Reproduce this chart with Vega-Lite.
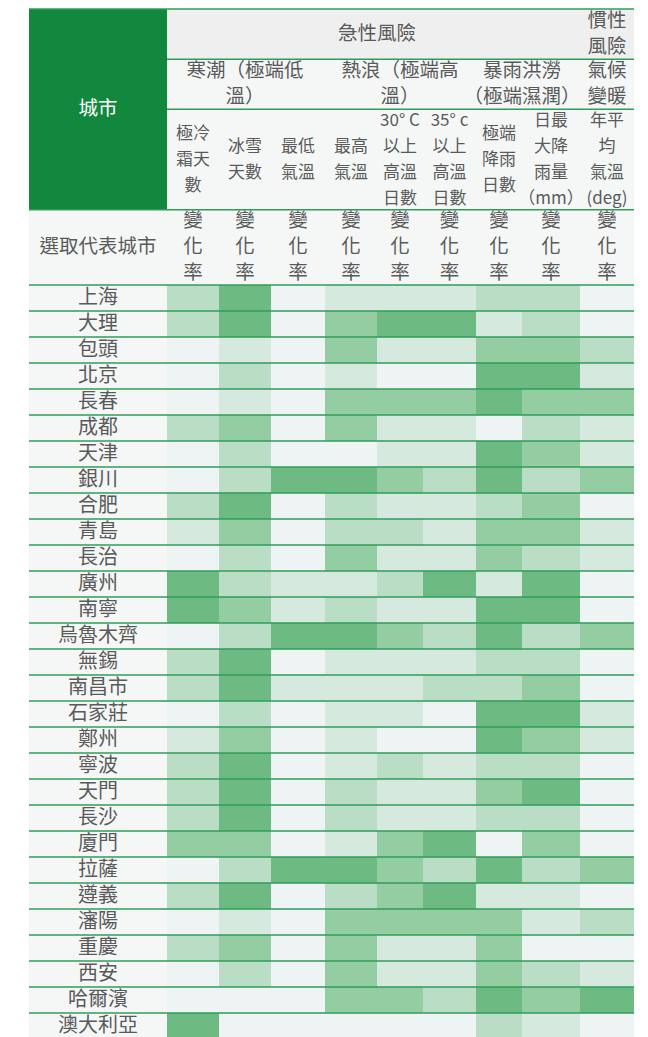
{
  "$schema": "https://vega.github.io/schema/vega-lite/v6.json",
  "width": 605,
  "height": 1030,
  "autosize": {"type": "none"},
  "padding": {"left": 29, "top": 9, "right": 14, "bottom": 0},
  "config": {"view": {"stroke": null}, "font": "Noto Sans CJK TC"},
  "datasets": {
    "hdr": [
      {"標題": "城市", "欄起": 0, "欄止": 1, "行起": 0, "行止": 8},
      {"標題": "急性風險", "欄起": 1, "欄止": 9, "行起": 0, "行止": 2},
      {"標題": "慣性\n風險", "欄起": 9, "欄止": 10, "行起": 0, "行止": 2},
      {"標題": "寒潮（極端低\n溫）", "欄起": 1, "欄止": 4, "行起": 2, "行止": 4},
      {"標題": "熱浪（極端高\n溫）", "欄起": 4, "欄止": 7, "行起": 2, "行止": 4},
      {"標題": "暴雨洪澇\n（極端濕潤）", "欄起": 7, "欄止": 9, "行起": 2, "行止": 4},
      {"標題": "氣候\n變暖", "欄起": 9, "欄止": 10, "行起": 2, "行止": 4},
      {"標題": "極冷\n霜天\n數", "指標": "極冷霜天數", "欄起": 1, "欄止": 2, "行起": 4, "行止": 8},
      {"標題": "冰雪\n天數", "指標": "冰雪天數", "欄起": 2, "欄止": 3, "行起": 4, "行止": 8},
      {"標題": "最低\n氣溫", "指標": "最低氣溫", "欄起": 3, "欄止": 4, "行起": 4, "行止": 8},
      {"標題": "最高\n氣溫", "指標": "最高氣溫", "欄起": 4, "欄止": 5, "行起": 4, "行止": 8},
      {"標題": "30° C\n以上\n高溫\n日數", "指標": "30°C以上高溫日數", "欄起": 5, "欄止": 6, "行起": 4, "行止": 8},
      {"標題": "35° c\n以上\n高溫\n日數", "指標": "35°C以上高溫日數", "欄起": 6, "欄止": 7, "行起": 4, "行止": 8},
      {"標題": "極端\n降雨\n日數", "指標": "極端降雨日數", "欄起": 7, "欄止": 8, "行起": 4, "行止": 8},
      {"標題": "日最\n大降\n雨量\n（mm）", "指標": "日最大降雨量", "欄起": 8, "欄止": 9, "行起": 4, "行止": 8},
      {"標題": "年平\n均\n氣溫\n(deg)", "指標": "年平均氣溫", "欄起": 9, "欄止": 10, "行起": 4, "行止": 8},
      {"標題": "選取代表城市", "欄起": 0, "欄止": 1, "行起": 8, "行止": 11},
      {"標題": "變\n化\n率", "欄起": 1, "欄止": 2, "行起": 8, "行止": 11},
      {"標題": "變\n化\n率", "欄起": 2, "欄止": 3, "行起": 8, "行止": 11},
      {"標題": "變\n化\n率", "欄起": 3, "欄止": 4, "行起": 8, "行止": 11},
      {"標題": "變\n化\n率", "欄起": 4, "欄止": 5, "行起": 8, "行止": 11},
      {"標題": "變\n化\n率", "欄起": 5, "欄止": 6, "行起": 8, "行止": 11},
      {"標題": "變\n化\n率", "欄起": 6, "欄止": 7, "行起": 8, "行止": 11},
      {"標題": "變\n化\n率", "欄起": 7, "欄止": 8, "行起": 8, "行止": 11},
      {"標題": "變\n化\n率", "欄起": 8, "欄止": 9, "行起": 8, "行止": 11},
      {"標題": "變\n化\n率", "欄起": 9, "欄止": 10, "行起": 8, "行止": 11}
    ],
    "cities": [
      {"城市": "上海", "極冷霜天數": 2, "冰雪天數": 4, "最低氣溫": 0, "最高氣溫": 1, "30°C以上高溫日數": 1, "35°C以上高溫日數": 1, "極端降雨日數": 2, "日最大降雨量": 2, "年平均氣溫": 0},
      {"城市": "大理", "極冷霜天數": 2, "冰雪天數": 4, "最低氣溫": 0, "最高氣溫": 3, "30°C以上高溫日數": 4, "35°C以上高溫日數": 4, "極端降雨日數": 1, "日最大降雨量": 2, "年平均氣溫": 0},
      {"城市": "包頭", "極冷霜天數": 0, "冰雪天數": 1, "最低氣溫": 0, "最高氣溫": 3, "30°C以上高溫日數": 1, "35°C以上高溫日數": 1, "極端降雨日數": 3, "日最大降雨量": 3, "年平均氣溫": 2},
      {"城市": "北京", "極冷霜天數": 0, "冰雪天數": 2, "最低氣溫": 0, "最高氣溫": 1, "30°C以上高溫日數": 0, "35°C以上高溫日數": 0, "極端降雨日數": 4, "日最大降雨量": 4, "年平均氣溫": 1},
      {"城市": "長春", "極冷霜天數": 0, "冰雪天數": 1, "最低氣溫": 0, "最高氣溫": 3, "30°C以上高溫日數": 3, "35°C以上高溫日數": 3, "極端降雨日數": 4, "日最大降雨量": 3, "年平均氣溫": 3},
      {"城市": "成都", "極冷霜天數": 2, "冰雪天數": 3, "最低氣溫": 0, "最高氣溫": 3, "30°C以上高溫日數": 1, "35°C以上高溫日數": 1, "極端降雨日數": 0, "日最大降雨量": 2, "年平均氣溫": 1},
      {"城市": "天津", "極冷霜天數": 0, "冰雪天數": 2, "最低氣溫": 0, "最高氣溫": 0, "30°C以上高溫日數": 1, "35°C以上高溫日數": 1, "極端降雨日數": 4, "日最大降雨量": 3, "年平均氣溫": 1},
      {"城市": "銀川", "極冷霜天數": 0, "冰雪天數": 2, "最低氣溫": 4, "最高氣溫": 4, "30°C以上高溫日數": 3, "35°C以上高溫日數": 2, "極端降雨日數": 4, "日最大降雨量": 2, "年平均氣溫": 3},
      {"城市": "合肥", "極冷霜天數": 2, "冰雪天數": 4, "最低氣溫": 0, "最高氣溫": 2, "30°C以上高溫日數": 1, "35°C以上高溫日數": 1, "極端降雨日數": 2, "日最大降雨量": 3, "年平均氣溫": 0},
      {"城市": "青島", "極冷霜天數": 1, "冰雪天數": 3, "最低氣溫": 0, "最高氣溫": 2, "30°C以上高溫日數": 2, "35°C以上高溫日數": 1, "極端降雨日數": 3, "日最大降雨量": 3, "年平均氣溫": 1},
      {"城市": "長治", "極冷霜天數": 0, "冰雪天數": 2, "最低氣溫": 0, "最高氣溫": 3, "30°C以上高溫日數": 1, "35°C以上高溫日數": 1, "極端降雨日數": 3, "日最大降雨量": 2, "年平均氣溫": 1},
      {"城市": "廣州", "極冷霜天數": 4, "冰雪天數": 2, "最低氣溫": 1, "最高氣溫": 1, "30°C以上高溫日數": 2, "35°C以上高溫日數": 4, "極端降雨日數": 1, "日最大降雨量": 4, "年平均氣溫": 0},
      {"城市": "南寧", "極冷霜天數": 4, "冰雪天數": 3, "最低氣溫": 1, "最高氣溫": 2, "30°C以上高溫日數": 1, "35°C以上高溫日數": 1, "極端降雨日數": 4, "日最大降雨量": 4, "年平均氣溫": 0},
      {"城市": "烏魯木齊", "極冷霜天數": 0, "冰雪天數": 2, "最低氣溫": 4, "最高氣溫": 4, "30°C以上高溫日數": 3, "35°C以上高溫日數": 2, "極端降雨日數": 4, "日最大降雨量": 2, "年平均氣溫": 3},
      {"城市": "無錫", "極冷霜天數": 2, "冰雪天數": 4, "最低氣溫": 0, "最高氣溫": 1, "30°C以上高溫日數": 1, "35°C以上高溫日數": 1, "極端降雨日數": 2, "日最大降雨量": 2, "年平均氣溫": 0},
      {"城市": "南昌市", "極冷霜天數": 2, "冰雪天數": 4, "最低氣溫": 1, "最高氣溫": 1, "30°C以上高溫日數": 1, "35°C以上高溫日數": 2, "極端降雨日數": 2, "日最大降雨量": 3, "年平均氣溫": 0},
      {"城市": "石家莊", "極冷霜天數": 0, "冰雪天數": 2, "最低氣溫": 0, "最高氣溫": 1, "30°C以上高溫日數": 1, "35°C以上高溫日數": 0, "極端降雨日數": 4, "日最大降雨量": 4, "年平均氣溫": 1},
      {"城市": "鄭州", "極冷霜天數": 1, "冰雪天數": 3, "最低氣溫": 0, "最高氣溫": 1, "30°C以上高溫日數": 0, "35°C以上高溫日數": 0, "極端降雨日數": 4, "日最大降雨量": 3, "年平均氣溫": 1},
      {"城市": "寧波", "極冷霜天數": 2, "冰雪天數": 4, "最低氣溫": 0, "最高氣溫": 1, "30°C以上高溫日數": 2, "35°C以上高溫日數": 1, "極端降雨日數": 2, "日最大降雨量": 2, "年平均氣溫": 0},
      {"城市": "天門", "極冷霜天數": 2, "冰雪天數": 4, "最低氣溫": 0, "最高氣溫": 2, "30°C以上高溫日數": 1, "35°C以上高溫日數": 1, "極端降雨日數": 3, "日最大降雨量": 4, "年平均氣溫": 0},
      {"城市": "長沙", "極冷霜天數": 2, "冰雪天數": 4, "最低氣溫": 0, "最高氣溫": 2, "30°C以上高溫日數": 1, "35°C以上高溫日數": 1, "極端降雨日數": 2, "日最大降雨量": 2, "年平均氣溫": 0},
      {"城市": "廈門", "極冷霜天數": 3, "冰雪天數": 3, "最低氣溫": 0, "最高氣溫": 1, "30°C以上高溫日數": 3, "35°C以上高溫日數": 4, "極端降雨日數": 0, "日最大降雨量": 3, "年平均氣溫": 0},
      {"城市": "拉薩", "極冷霜天數": 0, "冰雪天數": 2, "最低氣溫": 4, "最高氣溫": 4, "30°C以上高溫日數": 3, "35°C以上高溫日數": 2, "極端降雨日數": 4, "日最大降雨量": 2, "年平均氣溫": 3},
      {"城市": "遵義", "極冷霜天數": 2, "冰雪天數": 4, "最低氣溫": 0, "最高氣溫": 2, "30°C以上高溫日數": 3, "35°C以上高溫日數": 4, "極端降雨日數": 1, "日最大降雨量": 1, "年平均氣溫": 0},
      {"城市": "瀋陽", "極冷霜天數": 0, "冰雪天數": 1, "最低氣溫": 0, "最高氣溫": 3, "30°C以上高溫日數": 3, "35°C以上高溫日數": 3, "極端降雨日數": 3, "日最大降雨量": 1, "年平均氣溫": 2},
      {"城市": "重慶", "極冷霜天數": 2, "冰雪天數": 3, "最低氣溫": 0, "最高氣溫": 3, "30°C以上高溫日數": 1, "35°C以上高溫日數": 1, "極端降雨日數": 3, "日最大降雨量": 0, "年平均氣溫": 0},
      {"城市": "西安", "極冷霜天數": 0, "冰雪天數": 2, "最低氣溫": 0, "最高氣溫": 3, "30°C以上高溫日數": 1, "35°C以上高溫日數": 1, "極端降雨日數": 3, "日最大降雨量": 2, "年平均氣溫": 1},
      {"城市": "哈爾濱", "極冷霜天數": 0, "冰雪天數": 0, "最低氣溫": 0, "最高氣溫": 3, "30°C以上高溫日數": 3, "35°C以上高溫日數": 2, "極端降雨日數": 4, "日最大降雨量": 3, "年平均氣溫": 4},
      {"城市": "澳大利亞", "極冷霜天數": 4, "冰雪天數": 0, "最低氣溫": 0, "最高氣溫": 0, "30°C以上高溫日數": 0, "35°C以上高溫日數": 0, "極端降雨日數": 2, "日最大降雨量": 1, "年平均氣溫": 0}
    ]
  },
  "layer": [
    {
      "data": {"name": "hdr"},
      "mark": {"type": "rect"},
      "encoding": {
        "x": {"field": "欄起", "type": "quantitative", "axis": null, "scale": {"domain": [0,1,2,3,4,5,6,7,8,9,10], "range": [0,138,190,242,296,348,394,447,493,551,605], "nice": false, "zero": false}},
        "x2": {"field": "欄止"},
        "y": {"field": "行起", "type": "quantitative", "axis": null, "scale": {"domain": [0, 11, 40], "range": [0, 276, 1030], "nice": false, "zero": false}},
        "y2": {"field": "行止"},
        "fill": {"condition": [{"test": "datum['行起'] == 0 && datum['欄起'] == 0", "value": "#11883d"}, {"test": "datum['行起'] == 0", "value": "#efefef"}], "value": "#f5f7f7"}
      }
    },
    {
      "data": {"name": "cities"},
      "transform": [
        {"window": [{"op": "row_number", "as": "序"}]},
        {"calculate": "datum['序'] + 10", "as": "行起"},
        {"calculate": "datum['序'] + 11", "as": "行止"}
      ],
      "mark": {"type": "rect", "fill": "#f5f7f7"},
      "encoding": {
        "x": {"datum": 0, "type": "quantitative", "axis": null, "scale": {"domain": [0,1,2,3,4,5,6,7,8,9,10], "range": [0,138,190,242,296,348,394,447,493,551,605], "nice": false, "zero": false}},
        "x2": {"datum": 1},
        "y": {"field": "行起", "type": "quantitative", "axis": null, "scale": {"domain": [0, 11, 40], "range": [0, 276, 1030], "nice": false, "zero": false}},
        "y2": {"field": "行止"}
      }
    },
    {
      "data": {"name": "cities"},
      "transform": [
        {"window": [{"op": "row_number", "as": "序"}]},
        {"fold": ["極冷霜天數", "冰雪天數", "最低氣溫", "最高氣溫", "30°C以上高溫日數", "35°C以上高溫日數", "極端降雨日數", "日最大降雨量", "年平均氣溫"], "as": ["指標", "等級"]},
        {"lookup": "指標", "from": {"data": {"name": "hdr"}, "key": "指標", "fields": ["欄起", "欄止"]}},
        {"calculate": "datum['序'] + 10", "as": "行起"},
        {"calculate": "datum['序'] + 11", "as": "行止"}
      ],
      "mark": {"type": "rect"},
      "encoding": {
        "x": {"field": "欄起", "type": "quantitative", "axis": null, "scale": {"domain": [0,1,2,3,4,5,6,7,8,9,10], "range": [0,138,190,242,296,348,394,447,493,551,605], "nice": false, "zero": false}},
        "x2": {"field": "欄止"},
        "y": {"field": "行起", "type": "quantitative", "axis": null, "scale": {"domain": [0, 11, 40], "range": [0, 276, 1030], "nice": false, "zero": false}},
        "y2": {"field": "行止"},
        "color": {"field": "等級", "type": "ordinal", "legend": null, "scale": {"domain": [0, 1, 2, 3, 4], "range": ["#eef3f3", "#d6e9de", "#b9ddc5", "#95cda3", "#6dbb82"]}},
        "tooltip": [{"field": "城市"}, {"field": "指標"}, {"field": "等級"}]
      }
    },
    {
      "data": {"name": "hdr"},
      "mark": {"type": "rule", "color": "#2f9c58", "strokeWidth": 1.5},
      "encoding": {
        "x": {"field": "欄起", "type": "quantitative", "axis": null, "scale": {"domain": [0,1,2,3,4,5,6,7,8,9,10], "range": [0,138,190,242,296,348,394,447,493,551,605], "nice": false, "zero": false}},
        "x2": {"field": "欄止"},
        "y": {"field": "行止", "type": "quantitative", "axis": null, "scale": {"domain": [0, 11, 40], "range": [0, 276, 1030], "nice": false, "zero": false}}
      }
    },
    {
      "data": {"name": "hdr"},
      "transform": [{"filter": "datum['行起'] == 0"}],
      "mark": {"type": "rule", "color": "#2f9c58", "strokeWidth": 1.5},
      "encoding": {
        "x": {"field": "欄起", "type": "quantitative", "axis": null, "scale": {"domain": [0,1,2,3,4,5,6,7,8,9,10], "range": [0,138,190,242,296,348,394,447,493,551,605], "nice": false, "zero": false}},
        "x2": {"field": "欄止"},
        "y": {"field": "行起", "type": "quantitative", "axis": null, "scale": {"domain": [0, 11, 40], "range": [0, 276, 1030], "nice": false, "zero": false}}
      }
    },
    {
      "data": {"name": "cities"},
      "transform": [
        {"window": [{"op": "row_number", "as": "序"}]},
        {"calculate": "datum['序'] + 11", "as": "行止"}
      ],
      "mark": {"type": "rule", "color": "#2f9c58", "strokeWidth": 1.5},
      "encoding": {
        "x": {"datum": 0, "type": "quantitative", "axis": null, "scale": {"domain": [0,1,2,3,4,5,6,7,8,9,10], "range": [0,138,190,242,296,348,394,447,493,551,605], "nice": false, "zero": false}},
        "x2": {"datum": 10},
        "y": {"field": "行止", "type": "quantitative", "axis": null, "scale": {"domain": [0, 11, 40], "range": [0, 276, 1030], "nice": false, "zero": false}}
      }
    },
    {
      "data": {"name": "hdr"},
      "transform": [
        {"calculate": "(datum['欄起'] + datum['欄止']) / 2", "as": "欄中"},
        {"calculate": "(datum['行起'] + datum['行止']) / 2 - (length(split(datum['標題'], '\\n')) - 1) * 0.518", "as": "首行"}
      ],
      "mark": {"type": "text", "align": "center", "baseline": "middle", "lineBreak": "\n", "lineHeight": 26},
      "encoding": {
        "x": {"field": "欄中", "type": "quantitative", "axis": null, "scale": {"domain": [0,1,2,3,4,5,6,7,8,9,10], "range": [0,138,190,242,296,348,394,447,493,551,605], "nice": false, "zero": false}},
        "y": {"field": "首行", "type": "quantitative", "axis": null, "scale": {"domain": [0, 11, 40], "range": [0, 276, 1030], "nice": false, "zero": false}},
        "text": {"field": "標題"},
        "size": {"condition": {"test": "datum['行起'] == 4", "value": 17}, "value": 19.5},
        "color": {"condition": {"test": "datum['行起'] == 0 && datum['欄起'] == 0", "value": "#ffffff"}, "value": "#5a5a5a"}
      }
    },
    {
      "data": {"name": "cities"},
      "transform": [
        {"window": [{"op": "row_number", "as": "序"}]},
        {"calculate": "datum['序'] + 10.5", "as": "行中"}
      ],
      "mark": {"type": "text", "align": "center", "baseline": "middle", "fontSize": 20, "color": "#5a5a5a"},
      "encoding": {
        "x": {"datum": 0.5, "type": "quantitative", "axis": null, "scale": {"domain": [0,1,2,3,4,5,6,7,8,9,10], "range": [0,138,190,242,296,348,394,447,493,551,605], "nice": false, "zero": false}},
        "y": {"field": "行中", "type": "quantitative", "axis": null, "scale": {"domain": [0, 11, 40], "range": [0, 276, 1030], "nice": false, "zero": false}},
        "text": {"field": "城市"}
      }
    }
  ]
}
